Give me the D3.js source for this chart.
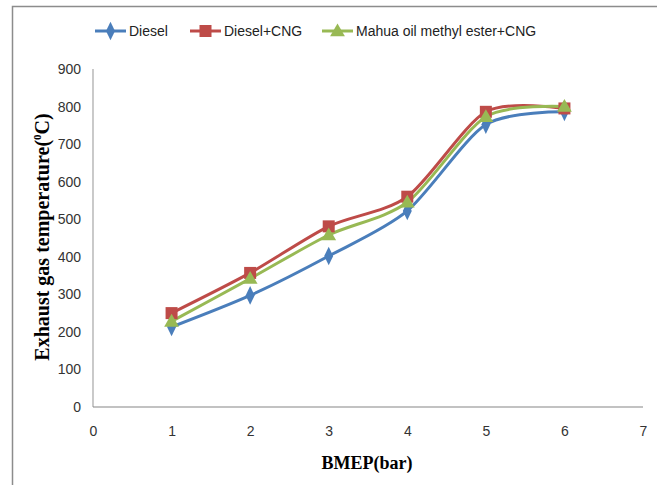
<!DOCTYPE html>
<meta charset="utf-8">
<script src="https://cdn.jsdelivr.net/npm/d3@7"></script>
<style>
    body { margin: 0; background: #fff; }
    .tick text { font-family: "Liberation Sans Narrow", "Liberation Sans", sans-serif; font-size: 14px; fill: #333; }
    .legend text { font-family: "Liberation Sans Narrow", "Liberation Sans", sans-serif; font-size: 14px; fill: #222; }
    .title { font-family: "Liberation Serif", serif; font-weight: bold; fill: #000; }
</style>
<body>
<script>
    // chart data
    const bmep = [1, 2, 3, 4, 5, 6];
    const diesel = [213, 297, 402, 522, 752, 786];
    const dieselCng = [250, 357, 481, 560, 786, 795];
    const mahuaCng = [228, 342, 458, 545, 773, 800];
    const xTicks = [0, 1, 2, 3, 4, 5, 6, 7];
    const yTicks = [0, 100, 200, 300, 400, 500, 600, 700, 800, 900];

    const series = [
        {name: "Diesel", values: diesel, color: "#4a7ebb", marker: "diamond"},
        {name: "Diesel+CNG", values: dieselCng, color: "#be4b48", marker: "square"},
        {name: "Mahua oil methyl ester+CNG", values: mahuaCng, color: "#98b954", marker: "triangle"}
    ];

    const width = 657, height = 485;
    const svg = d3.select("body").append("svg")
        .attr("width", width)
        .attr("height", height);

    // outer frame (top + left only visible)
    svg.append("path")
        .attr("d", "M12.5,485 L12.5,6.5 L657,6.5")
        .attr("fill", "none")
        .attr("stroke", "#8c8c8c")
        .attr("stroke-width", 1.5);

    const x = d3.scaleLinear().domain([0, 7]).range([93, 643]);
    const y = d3.scaleLinear().domain([0, 900]).range([407, 69]);

    // axes
    svg.append("line")
        .attr("x1", x(0)).attr("x2", x(0))
        .attr("y1", y(0)).attr("y2", y(900))
        .attr("stroke", "#a6a6a6").attr("stroke-width", 1.2);
    svg.append("line")
        .attr("x1", x(0)).attr("x2", x(7))
        .attr("y1", y(0)).attr("y2", y(0))
        .attr("stroke", "#868686").attr("stroke-width", 1.2);

    const yAxis = svg.append("g")
        .attr("transform", "translate(" + x(0) + ",0)")
        .call(d3.axisLeft(y).tickValues(yTicks).tickSize(0).tickPadding(12));
    yAxis.select(".domain").remove();

    const xAxis = svg.append("g")
        .attr("transform", "translate(0," + y(0) + ")")
        .call(d3.axisBottom(x).tickValues(xTicks).tickFormat(d3.format("d")).tickSize(0).tickPadding(19));
    xAxis.select(".domain").remove();

    // axis titles
    svg.append("text")
        .attr("class", "title")
        .attr("font-size", "18px")
        .attr("x", 367).attr("y", 469)
        .attr("text-anchor", "middle")
        .text("BMEP(bar)");

    const yt = svg.append("text")
        .attr("class", "title")
        .attr("font-size", "20px")
        .attr("text-anchor", "middle")
        .attr("transform", "translate(49,237) rotate(-90)");
    yt.append("tspan").text("Exhaust gas temperature(");
    yt.append("tspan").attr("font-size", "11px").attr("dy", -8).text("0");
    yt.append("tspan").attr("dy", 8).text("C)");

    const line = d3.line()
        .x((d, i) => x(bmep[i]))
        .y(d => y(d))
        .curve(d3.curveCardinal.tension(0.2));

    function drawMarker(g, type, cx, cy, color) {
        if (type === "diamond") {
            g.append("path")
                .attr("d", d3.symbol(d3.symbolDiamond, 70)())
                .attr("transform", "translate(" + cx + "," + cy + ") scale(1,1.2)")
                .attr("fill", color);
        } else if (type === "square") {
            g.append("rect")
                .attr("x", cx - 6).attr("y", cy - 6)
                .attr("width", 12).attr("height", 12)
                .attr("fill", color);
        } else {
            g.append("path")
                .attr("d", d3.symbol(d3.symbolTriangle, 95)())
                .attr("transform", "translate(" + cx + "," + (cy + 1) + ")")
                .attr("fill", color);
        }
    }

    const plot = svg.append("g");
    series.forEach(function (s) {
        plot.append("path")
            .datum(s.values)
            .attr("d", line)
            .attr("fill", "none")
            .attr("stroke", s.color)
            .attr("stroke-width", 3);
    });
    series.forEach(function (s) {
        s.values.forEach(function (v, i) {
            drawMarker(plot, s.marker, x(bmep[i]), y(v), s.color);
        });
    });

    // legend
    const legendX = [95, 190, 322];
    const legend = svg.append("g").attr("class", "legend");
    series.forEach(function (s, i) {
        const lx = legendX[i];
        legend.append("line")
            .attr("x1", lx).attr("x2", lx + 31)
            .attr("y1", 31).attr("y2", 31)
            .attr("stroke", s.color).attr("stroke-width", 3);
        drawMarker(legend, s.marker, lx + 15.5, 31, s.color);
        legend.append("text")
            .attr("x", lx + 34).attr("y", 36)
            .text(s.name);
    });
</script>
</body>
